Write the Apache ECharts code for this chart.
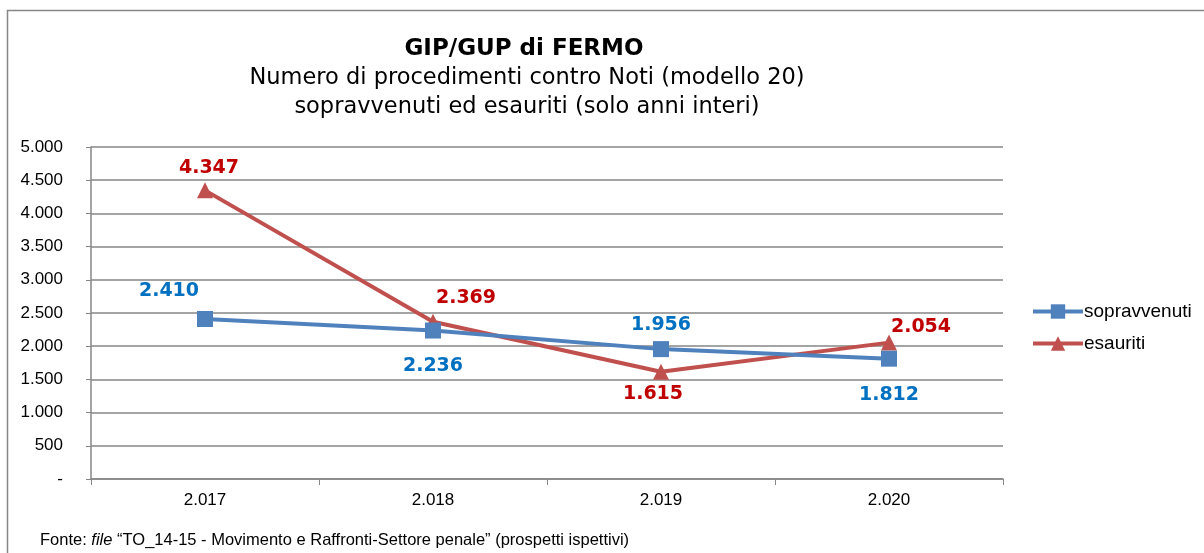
<!DOCTYPE html>
<html>
<head>
<meta charset="utf-8">
<script src="https://cdn.jsdelivr.net/npm/echarts@6/dist/echarts.min.js"></script>
<style>
  html, body { margin: 0; padding: 0; background: #fff; }
  #chart { width: 1204px; height: 553px; }
</style>
</head>
<body>
<div id="chart"></div>
<script>
// dati
const anni = ["2.017", "2.018", "2.019", "2.020"];
const sopravvenuti = [2410, 2236, 1956, 1812];
const esauriti = [4347, 2369, 1615, 2054];

// posizione delle etichette per ciascun punto
const posSopr = [[-36, -28], [0, 36], [0, -24], [0, 36]];
const posEsau = [[4, -22], [33, -24], [-8, 22], [32, -16]];

function fmt(v) {
  if (v === 0) return "-";
  return String(v).replace(/\B(?=(\d{3})+(?!\d))/g, ".");
}

function withLabels(values, offsets, color) {
  return values.map((v, i) => ({
    value: v,
    label: {
      show: true,
      position: "inside",
      offset: offsets[i],
      formatter: fmt(v),
      color: color,
      fontFamily: "DejaVu Sans",
      fontWeight: "bold",
      fontSize: 19
    }
  }));
}

const chart = echarts.init(document.getElementById("chart"));
chart.setOption({
  animation: false,
  backgroundColor: "#fff",
  title: [
    {
      text: "GIP/GUP di FERMO",
      left: 519,
      top: 33,
      textAlign: "center",
      textStyle: { fontFamily: "DejaVu Sans", fontWeight: "bold", fontSize: 23, color: "#000" }
    },
    {
      text: "Numero di procedimenti contro Noti (modello 20)\nsopravvenuti ed esauriti (solo anni interi)",
      left: 522,
      top: 59,
      textAlign: "center",
      textStyle: { fontFamily: "DejaVu Sans", fontWeight: "normal", fontSize: 22.5, lineHeight: 29, color: "#000" }
    }
  ],
  legend: {
    orient: "vertical",
    left: 1026,
    top: 297,
    itemWidth: 50,
    itemHeight: 18,
    itemGap: 13,
    lineStyle: { width: 4 },
    textStyle: { fontFamily: "Liberation Sans", fontSize: 19, color: "#000", padding: [0, 0, 0, -4] },
    data: ["sopravvenuti", "esauriti"]
  },
  grid: { left: 91, right: 201, top: 147, bottom: 74 },
  xAxis: {
    type: "category",
    data: anni,
    boundaryGap: true,
    axisLine: { lineStyle: { color: "#868686", width: 1.5 } },
    axisTick: { show: true, length: 6, lineStyle: { color: "#868686" } },
    axisLabel: { fontFamily: "Liberation Sans", fontSize: 17, color: "#000", margin: 13 }
  },
  yAxis: {
    type: "value",
    min: 0,
    max: 5000,
    interval: 500,
    axisLine: { show: true, lineStyle: { color: "#868686", width: 1.5 } },
    axisTick: { show: true, length: 5, lineStyle: { color: "#868686" } },
    splitLine: { lineStyle: { color: "#868686", width: 1.5 } },
    axisLabel: { fontFamily: "Liberation Sans", fontSize: 17, color: "#000", margin: 28, formatter: fmt }
  },
  series: [
    {
      name: "sopravvenuti",
      type: "line",
      data: withLabels(sopravvenuti, posSopr, "#0070C0"),
      symbol: "rect",
      symbolSize: 16,
      color: "#4F81BD",
      lineStyle: { width: 4, color: "#4F81BD" },
      itemStyle: { color: "#4F81BD" },
      z: 3
    },
    {
      name: "esauriti",
      type: "line",
      data: withLabels(esauriti, posEsau, "#C00000"),
      symbol: "triangle",
      symbolSize: 16,
      color: "#C0504D",
      lineStyle: { width: 4, color: "#C0504D" },
      itemStyle: { color: "#C0504D" },
      z: 2
    }
  ],
  graphic: [
    {
      type: "rect",
      shape: { x: 7.5, y: 10.5, width: 1210, height: 560 },
      style: { fill: null, stroke: "#868686", lineWidth: 1.5 },
      silent: true
    },
    {
      type: "text",
      left: 40,
      top: 532,
      style: {
        text: "{n|Fonte: }{i|file}{n| “TO_14-15 - Movimento e Raffronti-Settore penale” (prospetti ispettivi)}",
        rich: {
          n: { fontFamily: "Liberation Sans", fontSize: 16.5, fill: "#000" },
          i: { fontFamily: "Liberation Sans", fontSize: 16.5, fontStyle: "italic", fill: "#000" }
        }
      }
    }
  ]
});
</script>
</body>
</html>
